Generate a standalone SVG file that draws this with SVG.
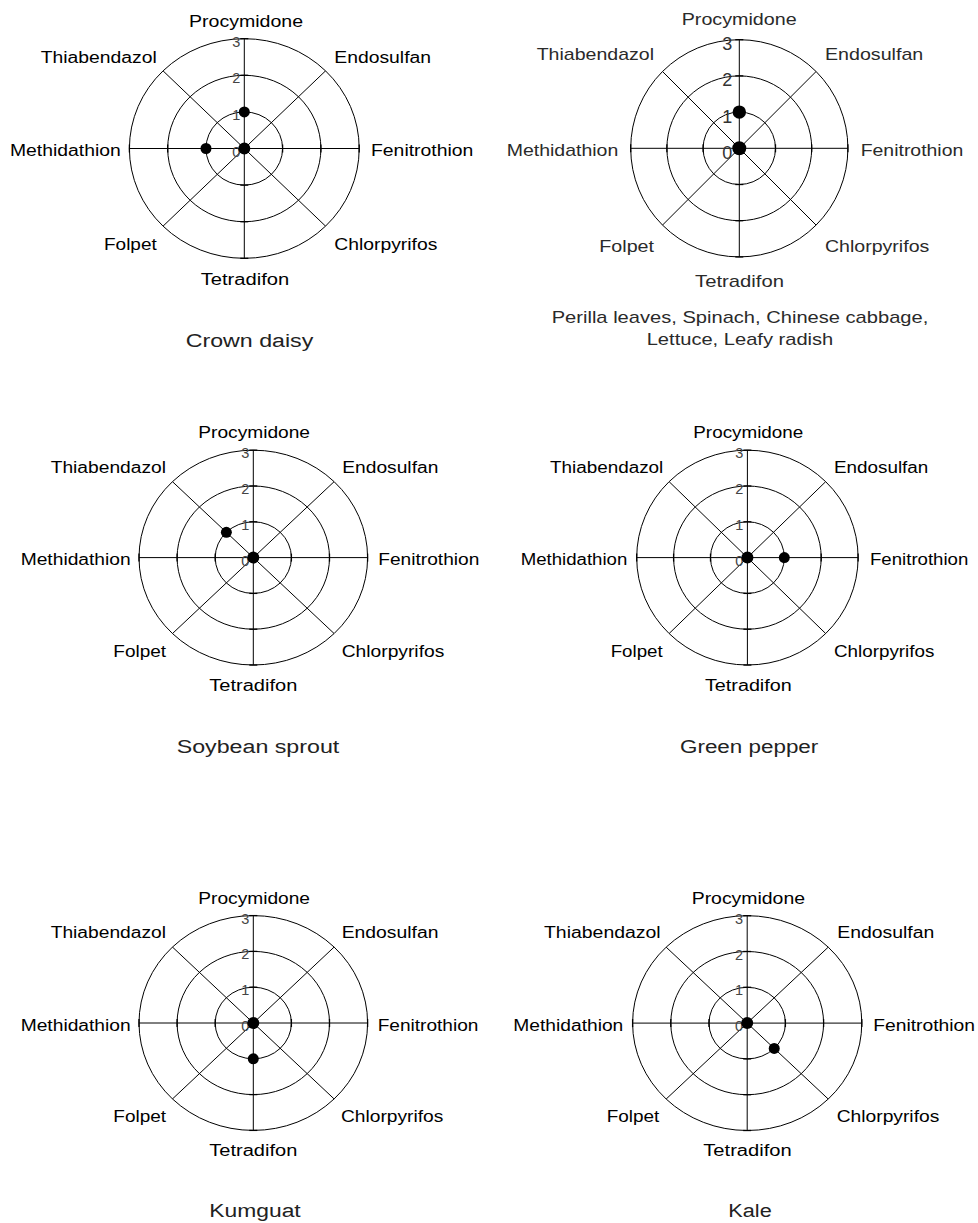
<svg xmlns="http://www.w3.org/2000/svg" width="978" height="1223" viewBox="0 0 978 1223">
<style>
.grid{fill:none;stroke:#000;stroke-width:1}
.tick{stroke:#000;stroke-width:1.3}
.lbl{font-family:"Liberation Sans",Arial,sans-serif;font-size:16px;fill:#000}
.lbl2{font-family:"Liberation Sans",Arial,sans-serif;font-size:17px;fill:#2a2a2a}
.num{font-family:"Liberation Sans",Arial,sans-serif;font-size:14.5px;fill:#444;text-anchor:end}
.num2{font-family:"Liberation Sans",Arial,sans-serif;font-size:18px;fill:#333;text-anchor:end}
.cap{font-family:"Liberation Sans",Arial,sans-serif;font-size:18px;fill:#222}
.dot{fill:#000}
</style>

<!-- Chart 1: Crown daisy -->
<g id="chart-crown-daisy">
  <g transform="translate(244.3,148.5)">
    <g class="grid">
      <ellipse rx="38.3" ry="36.6"/><ellipse rx="76.6" ry="73.2"/><ellipse rx="114.9" ry="109.8"/>
      <line x1="-114.9" y1="0" x2="114.9" y2="0"/><line x1="0" y1="-109.8" x2="0" y2="109.8"/>
      <line x1="-81.25" y1="-77.64" x2="81.25" y2="77.64"/><line x1="81.25" y1="-77.64" x2="-81.25" y2="77.64"/>
    </g>
    <g class="tick">
      <line x1="-4" y1="-36.6" x2="4" y2="-36.6"/><line x1="-4" y1="-73.2" x2="4" y2="-73.2"/><line x1="-4" y1="-109.8" x2="4" y2="-109.8"/>
      <line x1="-4" y1="36.6" x2="4" y2="36.6"/><line x1="-4" y1="73.2" x2="4" y2="73.2"/><line x1="-4" y1="109.8" x2="4" y2="109.8"/>
      <line x1="38.3" y1="-4" x2="38.3" y2="4"/><line x1="76.6" y1="-4" x2="76.6" y2="4"/><line x1="114.9" y1="-4" x2="114.9" y2="4"/>
      <line x1="-38.3" y1="-4" x2="-38.3" y2="4"/><line x1="-76.6" y1="-4" x2="-76.6" y2="4"/><line x1="-114.9" y1="-4" x2="-114.9" y2="4"/>
    </g>
    <text class="num" x="-4" y="8">0</text><text class="num" x="-4" y="-28.6">1</text><text class="num" x="-4" y="-65.2">2</text><text class="num" x="-4" y="-101.8">3</text>
    <circle class="dot" cx="0" cy="0" r="6"/><circle class="dot" cx="0" cy="-36.6" r="5.5"/><circle class="dot" cx="-38.3" cy="0" r="5.5"/>
  </g>
  <text class="lbl" x="189" y="27.3" textLength="114" lengthAdjust="spacingAndGlyphs">Procymidone</text>
  <text class="lbl" x="40.7" y="62.7" textLength="116" lengthAdjust="spacingAndGlyphs">Thiabendazol</text>
  <text class="lbl" x="334.3" y="62.7" textLength="96.7" lengthAdjust="spacingAndGlyphs">Endosulfan</text>
  <text class="lbl" x="10" y="156" textLength="110.7" lengthAdjust="spacingAndGlyphs">Methidathion</text>
  <text class="lbl" x="371" y="156" textLength="102.3" lengthAdjust="spacingAndGlyphs">Fenitrothion</text>
  <text class="lbl" x="104" y="250" textLength="52.7" lengthAdjust="spacingAndGlyphs">Folpet</text>
  <text class="lbl" x="334.3" y="250" textLength="103" lengthAdjust="spacingAndGlyphs">Chlorpyrifos</text>
  <text class="lbl" x="200.7" y="285" textLength="88.6" lengthAdjust="spacingAndGlyphs">Tetradifon</text>
  <text class="cap" x="185.7" y="346.5" textLength="127.6" lengthAdjust="spacingAndGlyphs">Crown daisy</text>
</g>

<!-- Chart 2: Perilla leaves etc. -->
<g id="chart-leafy">
  <g transform="translate(739.3,148.3)">
    <g class="grid">
      <circle r="36.2"/><circle r="72.4"/><circle r="108.6"/>
      <line x1="-108.6" y1="0" x2="108.6" y2="0"/><line x1="0" y1="-108.6" x2="0" y2="108.6"/>
      <line x1="-76.79" y1="-76.79" x2="76.79" y2="76.79"/><line x1="76.79" y1="-76.79" x2="-76.79" y2="76.79"/>
    </g>
    <g class="tick">
      <line x1="-4" y1="-36.2" x2="4" y2="-36.2"/><line x1="-4" y1="-72.4" x2="4" y2="-72.4"/><line x1="-4" y1="-108.6" x2="4" y2="-108.6"/>
      <line x1="-4" y1="36.2" x2="4" y2="36.2"/><line x1="-4" y1="72.4" x2="4" y2="72.4"/><line x1="-4" y1="108.6" x2="4" y2="108.6"/>
      <line x1="36.2" y1="-4" x2="36.2" y2="4"/><line x1="72.4" y1="-4" x2="72.4" y2="4"/><line x1="108.6" y1="-4" x2="108.6" y2="4"/>
      <line x1="-36.2" y1="-4" x2="-36.2" y2="4"/><line x1="-72.4" y1="-4" x2="-72.4" y2="4"/><line x1="-108.6" y1="-4" x2="-108.6" y2="4"/>
    </g>
    <text class="num2" x="-7" y="10.5">0</text><text class="num2" x="-7" y="-25.7">1</text><text class="num2" x="-7" y="-61.9">2</text><text class="num2" x="-7" y="-98.1">3</text>
    <circle class="dot" cx="0" cy="0" r="7"/><circle class="dot" cx="0" cy="-36.2" r="6.7"/>
  </g>
  <text class="lbl2" x="681.7" y="25" textLength="115" lengthAdjust="spacingAndGlyphs">Procymidone</text>
  <text class="lbl2" x="536.7" y="60" textLength="117.3" lengthAdjust="spacingAndGlyphs">Thiabendazol</text>
  <text class="lbl2" x="825" y="60" textLength="98.3" lengthAdjust="spacingAndGlyphs">Endosulfan</text>
  <text class="lbl2" x="506.7" y="156" textLength="111.6" lengthAdjust="spacingAndGlyphs">Methidathion</text>
  <text class="lbl2" x="860.7" y="156" textLength="102.6" lengthAdjust="spacingAndGlyphs">Fenitrothion</text>
  <text class="lbl2" x="599.3" y="251.7" textLength="54.7" lengthAdjust="spacingAndGlyphs">Folpet</text>
  <text class="lbl2" x="825" y="251.7" textLength="104.3" lengthAdjust="spacingAndGlyphs">Chlorpyrifos</text>
  <text class="lbl2" x="695" y="286.7" textLength="89" lengthAdjust="spacingAndGlyphs">Tetradifon</text>
  <text class="lbl2" x="551.7" y="323.3" textLength="376.6" lengthAdjust="spacingAndGlyphs">Perilla leaves, Spinach, Chinese cabbage,</text>
  <text class="lbl2" x="646.7" y="345" textLength="186.6" lengthAdjust="spacingAndGlyphs">Lettuce, Leafy radish</text>
</g>

<!-- Chart 3: Soybean sprout -->
<g id="chart-soybean-sprout">
  <g transform="translate(253.3,557.6)">
    <g class="grid">
      <ellipse rx="38.1" ry="35.8"/><ellipse rx="76.2" ry="71.6"/><ellipse rx="114.3" ry="107.4"/>
      <line x1="-114.3" y1="0" x2="114.3" y2="0"/><line x1="0" y1="-107.4" x2="0" y2="107.4"/>
      <line x1="-80.82" y1="-75.94" x2="80.82" y2="75.94"/><line x1="80.82" y1="-75.94" x2="-80.82" y2="75.94"/>
    </g>
    <g class="tick">
      <line x1="-4" y1="-35.8" x2="4" y2="-35.8"/><line x1="-4" y1="-71.6" x2="4" y2="-71.6"/><line x1="-4" y1="-107.4" x2="4" y2="-107.4"/>
      <line x1="-4" y1="35.8" x2="4" y2="35.8"/><line x1="-4" y1="71.6" x2="4" y2="71.6"/><line x1="-4" y1="107.4" x2="4" y2="107.4"/>
      <line x1="38.1" y1="-4" x2="38.1" y2="4"/><line x1="76.2" y1="-4" x2="76.2" y2="4"/><line x1="114.3" y1="-4" x2="114.3" y2="4"/>
      <line x1="-38.1" y1="-4" x2="-38.1" y2="4"/><line x1="-76.2" y1="-4" x2="-76.2" y2="4"/><line x1="-114.3" y1="-4" x2="-114.3" y2="4"/>
    </g>
    <text class="num" x="-4" y="8">0</text><text class="num" x="-4" y="-27.8">1</text><text class="num" x="-4" y="-63.6">2</text><text class="num" x="-4" y="-99.4">3</text>
    <circle class="dot" cx="0" cy="0" r="6"/><circle class="dot" cx="-26.94" cy="-25.31" r="5.5"/>
  </g>
  <text class="lbl" x="198.3" y="438.3" textLength="111.7" lengthAdjust="spacingAndGlyphs">Procymidone</text>
  <text class="lbl" x="50.7" y="472.7" textLength="115.3" lengthAdjust="spacingAndGlyphs">Thiabendazol</text>
  <text class="lbl" x="342.3" y="472.7" textLength="96" lengthAdjust="spacingAndGlyphs">Endosulfan</text>
  <text class="lbl" x="20.7" y="565" textLength="110" lengthAdjust="spacingAndGlyphs">Methidathion</text>
  <text class="lbl" x="378.3" y="565" textLength="101" lengthAdjust="spacingAndGlyphs">Fenitrothion</text>
  <text class="lbl" x="113.3" y="656.7" textLength="52.7" lengthAdjust="spacingAndGlyphs">Folpet</text>
  <text class="lbl" x="341.7" y="656.7" textLength="102.6" lengthAdjust="spacingAndGlyphs">Chlorpyrifos</text>
  <text class="lbl" x="209.3" y="690.7" textLength="88" lengthAdjust="spacingAndGlyphs">Tetradifon</text>
  <text class="cap" x="176.7" y="752.7" textLength="162.6" lengthAdjust="spacingAndGlyphs">Soybean sprout</text>
</g>

<!-- Chart 4: Green pepper -->
<g id="chart-green-pepper">
  <g transform="translate(747.4,557.6)">
    <g class="grid">
      <ellipse rx="36.9" ry="35.8"/><ellipse rx="73.8" ry="71.6"/><ellipse rx="110.7" ry="107.4"/>
      <line x1="-110.7" y1="0" x2="110.7" y2="0"/><line x1="0" y1="-107.4" x2="0" y2="107.4"/>
      <line x1="-78.28" y1="-75.94" x2="78.28" y2="75.94"/><line x1="78.28" y1="-75.94" x2="-78.28" y2="75.94"/>
    </g>
    <g class="tick">
      <line x1="-4" y1="-35.8" x2="4" y2="-35.8"/><line x1="-4" y1="-71.6" x2="4" y2="-71.6"/><line x1="-4" y1="-107.4" x2="4" y2="-107.4"/>
      <line x1="-4" y1="35.8" x2="4" y2="35.8"/><line x1="-4" y1="71.6" x2="4" y2="71.6"/><line x1="-4" y1="107.4" x2="4" y2="107.4"/>
      <line x1="36.9" y1="-4" x2="36.9" y2="4"/><line x1="73.8" y1="-4" x2="73.8" y2="4"/><line x1="110.7" y1="-4" x2="110.7" y2="4"/>
      <line x1="-36.9" y1="-4" x2="-36.9" y2="4"/><line x1="-73.8" y1="-4" x2="-73.8" y2="4"/><line x1="-110.7" y1="-4" x2="-110.7" y2="4"/>
    </g>
    <text class="num" x="-4" y="8">0</text><text class="num" x="-4" y="-27.8">1</text><text class="num" x="-4" y="-63.6">2</text><text class="num" x="-4" y="-99.4">3</text>
    <circle class="dot" cx="0" cy="0" r="6"/><circle class="dot" cx="36.9" cy="0" r="5.5"/>
  </g>
  <text class="lbl" x="693.3" y="438.3" textLength="110" lengthAdjust="spacingAndGlyphs">Procymidone</text>
  <text class="lbl" x="550" y="472.7" textLength="113.3" lengthAdjust="spacingAndGlyphs">Thiabendazol</text>
  <text class="lbl" x="834" y="472.7" textLength="94.3" lengthAdjust="spacingAndGlyphs">Endosulfan</text>
  <text class="lbl" x="520.7" y="565" textLength="106.6" lengthAdjust="spacingAndGlyphs">Methidathion</text>
  <text class="lbl" x="870" y="565" textLength="98.3" lengthAdjust="spacingAndGlyphs">Fenitrothion</text>
  <text class="lbl" x="610.7" y="656.7" textLength="52" lengthAdjust="spacingAndGlyphs">Folpet</text>
  <text class="lbl" x="834" y="656.7" textLength="100.3" lengthAdjust="spacingAndGlyphs">Chlorpyrifos</text>
  <text class="lbl" x="705" y="690.7" textLength="86.7" lengthAdjust="spacingAndGlyphs">Tetradifon</text>
  <text class="cap" x="680" y="752.7" textLength="138.3" lengthAdjust="spacingAndGlyphs">Green pepper</text>
</g>

<!-- Chart 5: Kumguat -->
<g id="chart-kumguat">
  <g transform="translate(253.3,1023)">
    <g class="grid">
      <ellipse rx="38.1" ry="35.8"/><ellipse rx="76.2" ry="71.6"/><ellipse rx="114.3" ry="107.4"/>
      <line x1="-114.3" y1="0" x2="114.3" y2="0"/><line x1="0" y1="-107.4" x2="0" y2="107.4"/>
      <line x1="-80.82" y1="-75.94" x2="80.82" y2="75.94"/><line x1="80.82" y1="-75.94" x2="-80.82" y2="75.94"/>
    </g>
    <g class="tick">
      <line x1="-4" y1="-35.8" x2="4" y2="-35.8"/><line x1="-4" y1="-71.6" x2="4" y2="-71.6"/><line x1="-4" y1="-107.4" x2="4" y2="-107.4"/>
      <line x1="-4" y1="35.8" x2="4" y2="35.8"/><line x1="-4" y1="71.6" x2="4" y2="71.6"/><line x1="-4" y1="107.4" x2="4" y2="107.4"/>
      <line x1="38.1" y1="-4" x2="38.1" y2="4"/><line x1="76.2" y1="-4" x2="76.2" y2="4"/><line x1="114.3" y1="-4" x2="114.3" y2="4"/>
      <line x1="-38.1" y1="-4" x2="-38.1" y2="4"/><line x1="-76.2" y1="-4" x2="-76.2" y2="4"/><line x1="-114.3" y1="-4" x2="-114.3" y2="4"/>
    </g>
    <text class="num" x="-4" y="8">0</text><text class="num" x="-4" y="-27.8">1</text><text class="num" x="-4" y="-63.6">2</text><text class="num" x="-4" y="-99.4">3</text>
    <circle class="dot" cx="0" cy="0" r="6"/><circle class="dot" cx="0" cy="35.8" r="5.5"/>
  </g>
  <text class="lbl" x="198.3" y="904" textLength="111.7" lengthAdjust="spacingAndGlyphs">Procymidone</text>
  <text class="lbl" x="50.7" y="938.3" textLength="115.3" lengthAdjust="spacingAndGlyphs">Thiabendazol</text>
  <text class="lbl" x="341.7" y="938.3" textLength="96.7" lengthAdjust="spacingAndGlyphs">Endosulfan</text>
  <text class="lbl" x="20.7" y="1030.7" textLength="110" lengthAdjust="spacingAndGlyphs">Methidathion</text>
  <text class="lbl" x="377.7" y="1030.7" textLength="100.7" lengthAdjust="spacingAndGlyphs">Fenitrothion</text>
  <text class="lbl" x="113.3" y="1122.3" textLength="52.7" lengthAdjust="spacingAndGlyphs">Folpet</text>
  <text class="lbl" x="341" y="1122.3" textLength="102.3" lengthAdjust="spacingAndGlyphs">Chlorpyrifos</text>
  <text class="lbl" x="209.3" y="1156" textLength="88" lengthAdjust="spacingAndGlyphs">Tetradifon</text>
  <text class="cap" x="209.3" y="1217" textLength="91.4" lengthAdjust="spacingAndGlyphs">Kumguat</text>
</g>

<!-- Chart 6: Kale -->
<g id="chart-kale">
  <g transform="translate(747.2,1023.1)">
    <g class="grid">
      <ellipse rx="38.2" ry="35.8"/><ellipse rx="76.4" ry="71.6"/><ellipse rx="114.6" ry="107.4"/>
      <line x1="-114.6" y1="0" x2="114.6" y2="0"/><line x1="0" y1="-107.4" x2="0" y2="107.4"/>
      <line x1="-81.03" y1="-75.94" x2="81.03" y2="75.94"/><line x1="81.03" y1="-75.94" x2="-81.03" y2="75.94"/>
    </g>
    <g class="tick">
      <line x1="-4" y1="-35.8" x2="4" y2="-35.8"/><line x1="-4" y1="-71.6" x2="4" y2="-71.6"/><line x1="-4" y1="-107.4" x2="4" y2="-107.4"/>
      <line x1="-4" y1="35.8" x2="4" y2="35.8"/><line x1="-4" y1="71.6" x2="4" y2="71.6"/><line x1="-4" y1="107.4" x2="4" y2="107.4"/>
      <line x1="38.2" y1="-4" x2="38.2" y2="4"/><line x1="76.4" y1="-4" x2="76.4" y2="4"/><line x1="114.6" y1="-4" x2="114.6" y2="4"/>
      <line x1="-38.2" y1="-4" x2="-38.2" y2="4"/><line x1="-76.4" y1="-4" x2="-76.4" y2="4"/><line x1="-114.6" y1="-4" x2="-114.6" y2="4"/>
    </g>
    <text class="num" x="-4" y="8">0</text><text class="num" x="-4" y="-27.8">1</text><text class="num" x="-4" y="-63.6">2</text><text class="num" x="-4" y="-99.4">3</text>
    <circle class="dot" cx="0" cy="0" r="6"/><circle class="dot" cx="27.01" cy="25.31" r="5.5"/>
  </g>
  <text class="lbl" x="691.7" y="904" textLength="113.3" lengthAdjust="spacingAndGlyphs">Procymidone</text>
  <text class="lbl" x="544" y="938.3" textLength="116.7" lengthAdjust="spacingAndGlyphs">Thiabendazol</text>
  <text class="lbl" x="837.3" y="938.3" textLength="97" lengthAdjust="spacingAndGlyphs">Endosulfan</text>
  <text class="lbl" x="513.3" y="1030.7" textLength="110" lengthAdjust="spacingAndGlyphs">Methidathion</text>
  <text class="lbl" x="873.3" y="1030.7" textLength="101.7" lengthAdjust="spacingAndGlyphs">Fenitrothion</text>
  <text class="lbl" x="606.7" y="1122.3" textLength="52.6" lengthAdjust="spacingAndGlyphs">Folpet</text>
  <text class="lbl" x="836.7" y="1122.3" textLength="102.6" lengthAdjust="spacingAndGlyphs">Chlorpyrifos</text>
  <text class="lbl" x="703.3" y="1156" textLength="88.4" lengthAdjust="spacingAndGlyphs">Tetradifon</text>
  <text class="cap" x="728.3" y="1217" textLength="43.4" lengthAdjust="spacingAndGlyphs">Kale</text>
</g>
</svg>
